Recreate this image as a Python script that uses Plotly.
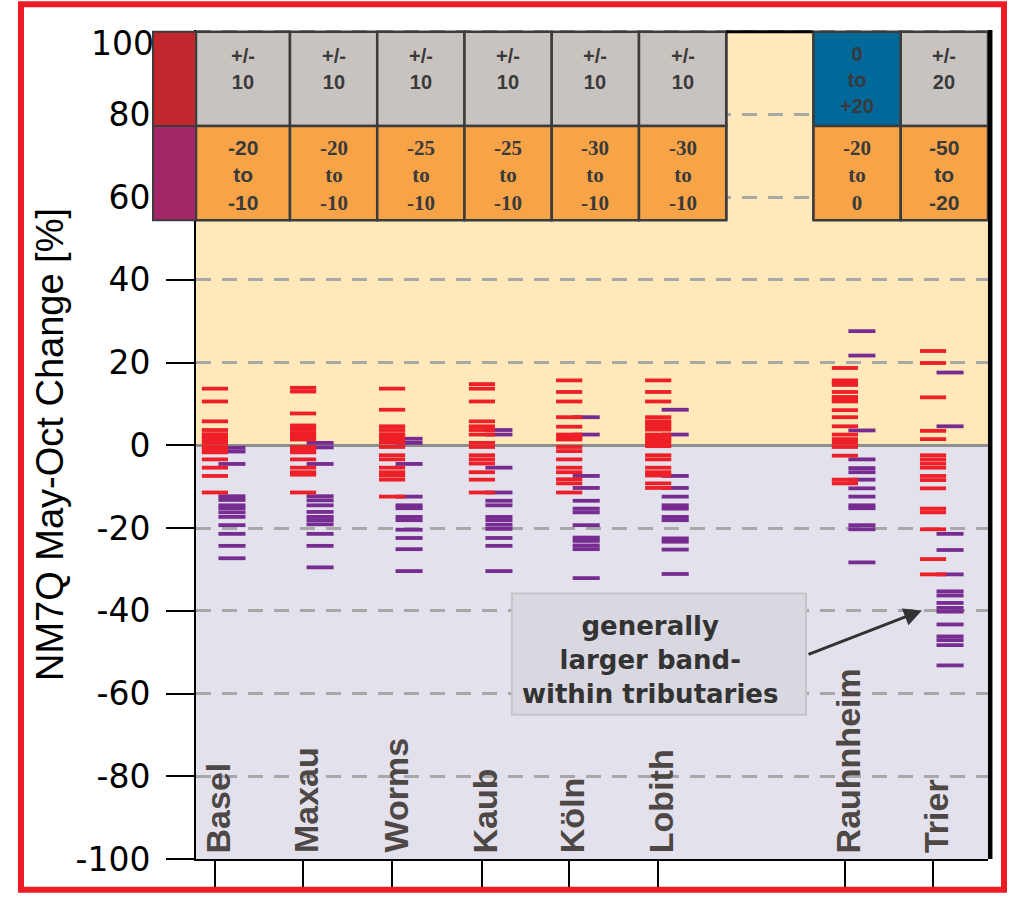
import plotly.graph_objects as go

# ---------------- data ----------------
stations = ["Basel", "Maxau", "Worms", "Kaub", "Köln", "Lobith", "Rauhnheim", "Trier"]
station_x = [0.14, 1.15, 2.17, 3.20, 4.20, 5.22, 7.36, 8.37]

# NM7Q May-Oct change [%] per model run, near future (red) and far future (purple)
basel_red = [13.7, 10.6, 5.8, 3.7, 2.7, 2.1, 1.4, 0.6, -0.4, -1.0, -1.7, -3.4, -5.4, -7.4, -11.4]
basel_purple = [-0.6, -1.5, -4.5, -12.3, -13.2, -14.5, -15.2, -16.2, -17.3, -19.3, -21.4, -24.3, -27.3]
maxau_red = [13.9, 13.0, 7.7, 4.8, 4.3, 3.7, 2.8, 2.1, 1.4, -0.4, -1.0, -1.7, -3.4, -5.4, -6.5, -7.1, -11.4]
maxau_purple = [0.6, -0.5, -4.5, -12.3, -13.3, -14.5, -16.1, -17.3, -18.1, -19.1, -21.4, -24.3, -29.5]
worms_red = [13.7, 8.6, 4.6, 3.7, 2.7, 2.1, 1.4, 0.7, -0.4, -2.4, -3.4, -5.4, -6.5, -7.3, -8.3, -12.4]
worms_purple = [1.6, 0.6, -4.5, -12.4, -14.5, -15.2, -17.3, -18.1, -20.4, -22.4, -25.1, -30.4]
kaub_red = [14.8, 13.7, 10.6, 5.8, 4.6, 3.7, 2.6, 0.6, -0.4, -2.4, -3.4, -4.4, -6.5, -8.3, -11.4]
kaub_purple = [3.7, 2.6, -5.4, -11.4, -13.4, -14.5, -17.3, -18.1, -19.2, -20.2, -22.4, -24.3, -30.4]
koeln_red = [15.7, 12.9, 10.6, 6.8, 4.5, 2.6, 1.8, 1.4, -0.4, -1.4, -3.4, -5.4, -6.5, -8.2, -9.2, -11.4]
koeln_purple = [6.8, 2.6, -7.4, -10.3, -13.4, -15.3, -16.2, -19.3, -22.3, -23.1, -24.2, -25.1, -32.1]
lobith_red = [15.7, 12.9, 10.6, 6.8, 5.8, 5.2, 4.5, 3.8, 2.6, 2.0, 1.4, 0.6, -0.2, -2.4, -3.4,
              -5.4, -6.5, -7.3, -9.2, -10.3]
lobith_purple = [8.6, 2.6, -7.4, -10.3, -12.4, -14.5, -15.3, -17.3, -18.1, -22.5, -23.3, -25.2, -31.1]
rauhnheim_red = [18.7, 15.7, 15.2, 14.6, 12.9, 11.7, 11.2, 10.6, 8.5, 6.8, 4.6, 2.6, 1.5, 0.6,
                 -0.4, -2.5, -8.3, -9.2]
rauhnheim_purple = [27.6, 21.7, 3.6, -3.4, -5.5, -6.5, -8.3, -10.4, -12.4, -14.5, -15.2, -19.3,
                    -20.3, -28.3]
trier_red = [22.8, 19.9, 11.6, 3.5, 1.5, -2.4, -3.4, -4.4, -5.4, -7.4, -8.4, -10.4, -15.3, -16.2,
             -20.3, -27.5, -31.2]
trier_purple = [17.6, 4.6, -21.4, -25.3, -31.2, -35.3, -36.3, -38.1, -39.3, -40.2, -43.3, -46.2,
                -47.1, -48.3, -53.2]

red_series = [basel_red, maxau_red, worms_red, kaub_red, koeln_red, lobith_red, rauhnheim_red, trier_red]
purple_series = [basel_purple, maxau_purple, worms_purple, kaub_purple, koeln_purple, lobith_purple,
                 rauhnheim_purple, trier_purple]

# summary table (9 columns, the 7th is an empty gap column)
table_top = ["+/-<br>10", "+/-<br>10", "+/-<br>10", "+/-<br>10", "+/-<br>10", "+/-<br>10",
             None, "0<br>to<br>+20", "+/-<br>20"]
table_bottom = ["-20<br>to<br>-10", "-20<br>to<br>-10", "-25<br>to<br>-10", "-25<br>to<br>-10",
                "-30<br>to<br>-10", "-30<br>to<br>-10", None, "-20<br>to<br>0", "-50<br>to<br>-20"]

y_ticks = [-100, -80, -60, -40, -20, 0, 20, 40, 60, 80, 100]

# ---------------- styling ----------------
RED = "#EE1F26"
PURPLE = "#762C90"
CREAM = "#FFE9BA"
LAVENDER = "#E3E1EC"
GREY_CELL = "#C9C3C0"
ORANGE_CELL = "#F7A347"
BLUE_CELL = "#00699A"
BORDER = "#3C3C3C"
TEXT_DARK = "#3A3A3A"
TICK_FONT = dict(family="DejaVu Sans", size=33, color="black")

top_colors = [GREY_CELL] * 6 + [None, BLUE_CELL, GREY_CELL]
bottom_serif = [False, True, True, True, True, True, None, True, False]

Y0, Y1 = -100, 100.4
X0, X1 = -0.077, 9.0
col_edges = [X0] + list(range(1, 10))
ROW_TOP, ROW_MID, ROW_BOT = 100.0, 77.2, 54.4


def yp(v):
    return (v - Y0) / (Y1 - Y0)


def segments(series, offs0, offs1):
    xs, ys = [], []
    for pos, vals in zip(station_x, series):
        for v in vals:
            xs += [pos + offs0, pos + offs1, None]
            ys += [v, v, None]
    return xs, ys


fig = go.Figure()

px_, py_ = segments(purple_series, 0.04, 0.35)
fig.add_trace(go.Scatter(x=px_, y=py_, mode="lines", line=dict(color=PURPLE, width=3.8),
                         hoverinfo="skip", showlegend=False))
rx_, ry_ = segments(red_series, -0.15, 0.15)
fig.add_trace(go.Scatter(x=rx_, y=ry_, mode="lines", line=dict(color=RED, width=3.8),
                         hoverinfo="skip", showlegend=False))

shapes = []
# background bands
shapes.append(dict(type="rect", xref="paper", yref="y", x0=0, x1=1, y0=0, y1=100,
                   fillcolor=CREAM, line=dict(width=0), layer="below"))
shapes.append(dict(type="rect", xref="paper", yref="y", x0=0, x1=1, y0=-100, y1=0,
                   fillcolor=LAVENDER, line=dict(width=0), layer="below"))

annotations = []
# table cells
for i in range(9):
    xa, xb = col_edges[i], col_edges[i + 1]
    xc = (xa + xb) / 2
    if table_top[i] is not None:
        shapes.append(dict(type="rect", xref="x", yref="y", x0=xa, x1=xb, y0=ROW_MID, y1=ROW_TOP,
                           fillcolor=top_colors[i], line=dict(color=BORDER, width=2.5), layer="above"))
        n_lines = table_top[i].count("<br>") + 1
        annotations.append(dict(x=xc, y=(ROW_MID + ROW_TOP) / 2, xref="x", yref="y",
                                text="<b>%s</b>" % table_top[i], showarrow=False,
                                yshift=10 if n_lines == 2 else -1,
                                font=dict(family="Liberation Sans, Arial", size=20, color=TEXT_DARK)))
    if table_bottom[i] is not None:
        shapes.append(dict(type="rect", xref="x", yref="y", x0=xa, x1=xb, y0=ROW_BOT, y1=ROW_MID,
                           fillcolor=ORANGE_CELL, line=dict(color=BORDER, width=2.5), layer="above"))
        fam = "Liberation Serif, Times New Roman" if bottom_serif[i] else "Liberation Sans, Arial"
        annotations.append(dict(x=xc, y=(ROW_BOT + ROW_MID) / 2, xref="x", yref="y",
                                text="<b>%s</b>" % table_bottom[i], showarrow=False, yshift=-2,
                                font=dict(family=fam, size=21, color=TEXT_DARK)))
    if table_top[i] is None:
        # empty gap column: side borders and heavy top edge
        for xx in (xa, xb):
            shapes.append(dict(type="line", xref="x", yref="y", x0=xx, x1=xx, y0=ROW_BOT, y1=ROW_TOP,
                               line=dict(color=BORDER, width=2.5), layer="above"))
        shapes.append(dict(type="line", xref="x", yref="y", x0=xa, x1=xb, y0=ROW_TOP, y1=ROW_TOP,
                           line=dict(color="black", width=3), layer="above"))

# colour key swatches left of the table
sw0 = (153 - 196) / 792.0
shapes.append(dict(type="rect", xref="paper", yref="paper", x0=sw0, x1=0, y0=yp(ROW_MID), y1=yp(ROW_TOP),
                   fillcolor="#C1272D", line=dict(color=BORDER, width=2), layer="above"))
shapes.append(dict(type="rect", xref="paper", yref="paper", x0=sw0, x1=0, y0=yp(ROW_BOT), y1=yp(ROW_MID),
                   fillcolor="#A3286A", line=dict(color=BORDER, width=2), layer="above"))

# heavy right frame of the plot
shapes.append(dict(type="line", xref="paper", yref="paper", x0=1.0028, x1=1.0028, y0=0, y1=1,
                   line=dict(color="black", width=4.5), layer="above"))

# note box
shapes.append(dict(type="rect", xref="x", yref="y", x0=3.544, x1=6.914, y0=-65.1, y1=-35.8,
                   fillcolor="#D9D7E0", line=dict(color="#C8C3C7", width=2), layer="above"))
annotations.append(dict(x=5.13, y=-51.9, xref="x", yref="y", showarrow=False,
                        text="<b>generally<br>larger band-<br>within tributaries</b>",
                        font=dict(family="DejaVu Sans", size=26, color="#333333")))
annotations.append(dict(x=8.243, y=-39.9, xref="x", yref="y", ax=6.926, ay=-50.7,
                        axref="x", ayref="y", text="", showarrow=True, arrowhead=2,
                        arrowsize=1.2, arrowwidth=3, arrowcolor="#333333"))

# station names inside the plot, rotated
for name, pos in zip(stations, station_x):
    annotations.append(dict(x=pos, y=-100, xref="x", yref="y", text="<b>%s</b>" % name,
                            textangle=-90, showarrow=False, xanchor="center", yanchor="bottom",
                            xshift=3, yshift=4,
                            font=dict(family="Liberation Sans, Arial", size=34, color="#4D4845")))

# top tick label sits a little below the plot edge
tick_text = [str(v) for v in y_ticks]
tick_text[-1] = ""
annotations.append(dict(x=0, y=y_ticks[-1], xref="paper", yref="y", text=str(y_ticks[-1]),
                        showarrow=False, xanchor="right", yanchor="middle",
                        xshift=-40, yshift=-12, font=TICK_FONT))

# red outer frame
shapes.append(dict(type="rect", xref="paper", yref="paper",
                   x0=(21 - 196) / 792.0, x1=(1004 - 196) / 792.0,
                   y0=(866 - 897) / 835.0, y1=(866 - 5) / 835.0,
                   line=dict(color="#ED1C24", width=6), fillcolor="rgba(0,0,0,0)", layer="above"))

fig.update_layout(
    width=1009, height=901,
    margin=dict(l=196, r=21, t=30, b=35),
    paper_bgcolor="white", plot_bgcolor="white",
    shapes=shapes, annotations=annotations,
    showlegend=False,
    xaxis=dict(range=[X0, X1], tickvals=station_x, ticktext=[""] * len(station_x),
               showticklabels=False, ticks="outside", ticklen=30, tickwidth=2, tickcolor="black",
               showline=True, linecolor="black", linewidth=2, showgrid=False, zeroline=False),
    yaxis=dict(range=[Y0, Y1], tickvals=y_ticks, ticktext=tick_text,
               ticks="outside", ticklen=28, tickwidth=2, tickcolor="black",
               ticklabelstandoff=9,
               tickfont=TICK_FONT,
               showline=True, linecolor="black", linewidth=2,
               showgrid=True, gridcolor="#A8A8A8", gridwidth=2.5, griddash="15px,11px",
               zeroline=True, zerolinecolor="#8F8F8F", zerolinewidth=2.5,
               title=dict(text="NM7Q May-Oct Change [%]", standoff=0,
                          font=dict(family="Liberation Sans, Arial", size=38, color="black"))),
)

fig.write_html("out.html")
